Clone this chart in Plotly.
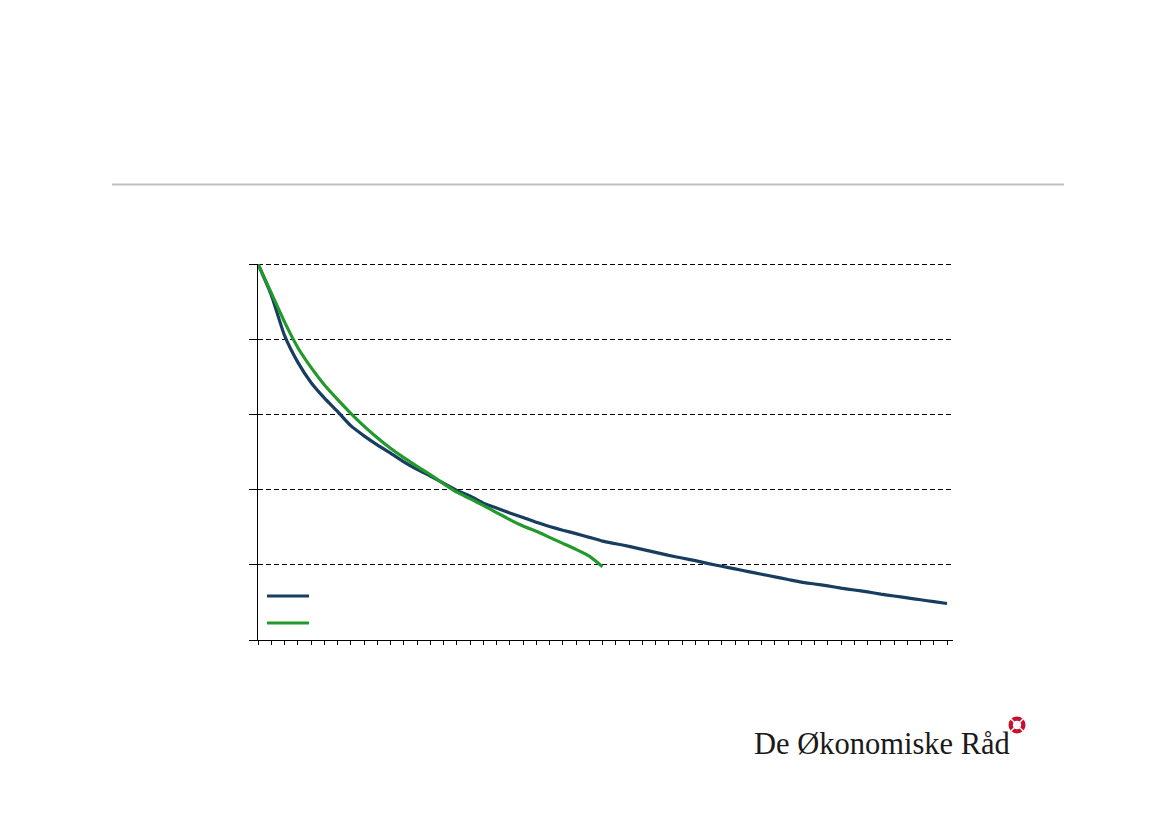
import plotly.graph_objects as go

# ---- data ----
blue_x = list(range(0, 53))
blue_y = [100, 91.8, 81.0, 73.9, 68.5, 64.4, 60.8, 57.0, 54.3, 51.9,
          49.7, 47.4, 45.4, 43.6, 41.7, 39.8, 38.3, 36.4, 35.1, 33.8,
          32.6, 31.3, 30.2, 29.2, 28.3, 27.3, 26.3, 25.6, 24.9, 24.1,
          23.3, 22.5, 21.8, 21.1, 20.3, 19.6, 18.9, 18.2, 17.5, 16.8,
          16.1, 15.4, 14.9, 14.4, 13.8, 13.3, 12.8, 12.2, 11.7, 11.2,
          10.7, 10.2, 9.7]
green_x = list(range(0, 27))
green_y = [100, 92.3, 84.6, 77.8, 72.5, 67.9, 64.0, 60.3, 56.9, 53.8,
           51.0, 48.5, 46.2, 44.0, 41.6, 39.3, 37.6, 35.8, 33.9, 32.0,
           30.3, 28.9, 27.3, 25.7, 24.1, 22.3, 19.5]
y_ticks = [0, 20, 40, 60, 80, 100]
logo_text = "De Økonomiske Råd"

BLUE = "#173d5f"
GREEN = "#22992b"

OFF = 8  # page body margin
# plot area in screen pixels
L, R, T, B = 258, 953, 264, 640
W, H = 1169 - 2 * OFF, 826 - 2 * OFF


def px(x):
    return (x - L) / (R - L)


def py(y):
    return (B - y) / (B - T)


fig = go.Figure()
fig.add_trace(go.Scatter(x=blue_x, y=blue_y, mode="lines",
                         line=dict(color=BLUE, width=3.2, shape="spline", smoothing=0.6),
                         cliponaxis=False, showlegend=False))
fig.add_trace(go.Scatter(x=green_x, y=green_y, mode="lines",
                         line=dict(color=GREEN, width=3.2, shape="spline", smoothing=0.5),
                         cliponaxis=False, showlegend=False))

shapes = []
# top gridline (plotly omits the one at the range edge); nudged half a pixel to stay crisp
shapes.append(dict(type="line", xref="paper", yref="paper", layer="below",
                   x0=0, x1=1, y0=1 - 0.5 / (B - T), y1=1 - 0.5 / (B - T),
                   line=dict(color="black", width=1, dash="5px,3px")))
# horizontal separator
shapes.append(dict(type="line", xref="paper", yref="paper",
                   x0=px(112), x1=px(1064), y0=py(184.5), y1=py(184.5),
                   line=dict(color="#c0c0c0", width=2)))
# legend samples
shapes.append(dict(type="line", xref="paper", yref="paper",
                   x0=px(267), x1=px(309), y0=py(596), y1=py(596),
                   line=dict(color=BLUE, width=3)))
shapes.append(dict(type="line", xref="paper", yref="paper",
                   x0=px(267), x1=px(309), y0=py(623), y1=py(623),
                   line=dict(color=GREEN, width=3)))
# logo icon
cx, cy, r = 1017, 725, 8.5
shapes.append(dict(type="circle", xref="paper", yref="paper",
                   x0=px(cx - r), x1=px(cx + r), y0=py(cy + r), y1=py(cy - r),
                   fillcolor="#c8102e", line=dict(width=0)))
ri = 4.2
shapes.append(dict(type="circle", xref="paper", yref="paper",
                   x0=px(cx - ri), x1=px(cx + ri), y0=py(cy + ri), y1=py(cy - ri),
                   fillcolor="white", line=dict(width=0)))
for dx, dy in [(1, 1), (1, -1)]:
    shapes.append(dict(type="line", xref="paper", yref="paper",
                       x0=px(cx - dx * r), x1=px(cx + dx * r),
                       y0=py(cy - dy * r), y1=py(cy + dy * r),
                       line=dict(color="white", width=1.5)))

fig.update_layout(
    width=W, height=H,
    margin=dict(l=L - OFF, r=W - (R - OFF), t=T - OFF, b=H - (B - OFF), pad=0),
    paper_bgcolor="white", plot_bgcolor="white",
    showlegend=False,
    shapes=shapes,
    xaxis=dict(range=[0, 52.45], dtick=1, tick0=0, showgrid=False,
               showline=True, linecolor="black", linewidth=1,
               ticks="outside", ticklen=4, tickcolor="black", tickwidth=1,
               showticklabels=False, zeroline=False, fixedrange=True),
    yaxis=dict(range=[0, 100], tickvals=y_ticks, showgrid=True,
               gridcolor="black", gridwidth=1, griddash="5px,3px",
               showline=True, linecolor="black", linewidth=1,
               ticks="outside", ticklen=8, tickcolor="black", tickwidth=1,
               showticklabels=False, zeroline=False, fixedrange=True),
    annotations=[dict(text=logo_text, xref="paper", yref="paper",
                      x=px(882), y=py(744), xanchor="center", yanchor="middle",
                      showarrow=False,
                      font=dict(family="Liberation Serif", size=30.5, color="#1a1a1a"))],
)

fig.write_html("out.html")
